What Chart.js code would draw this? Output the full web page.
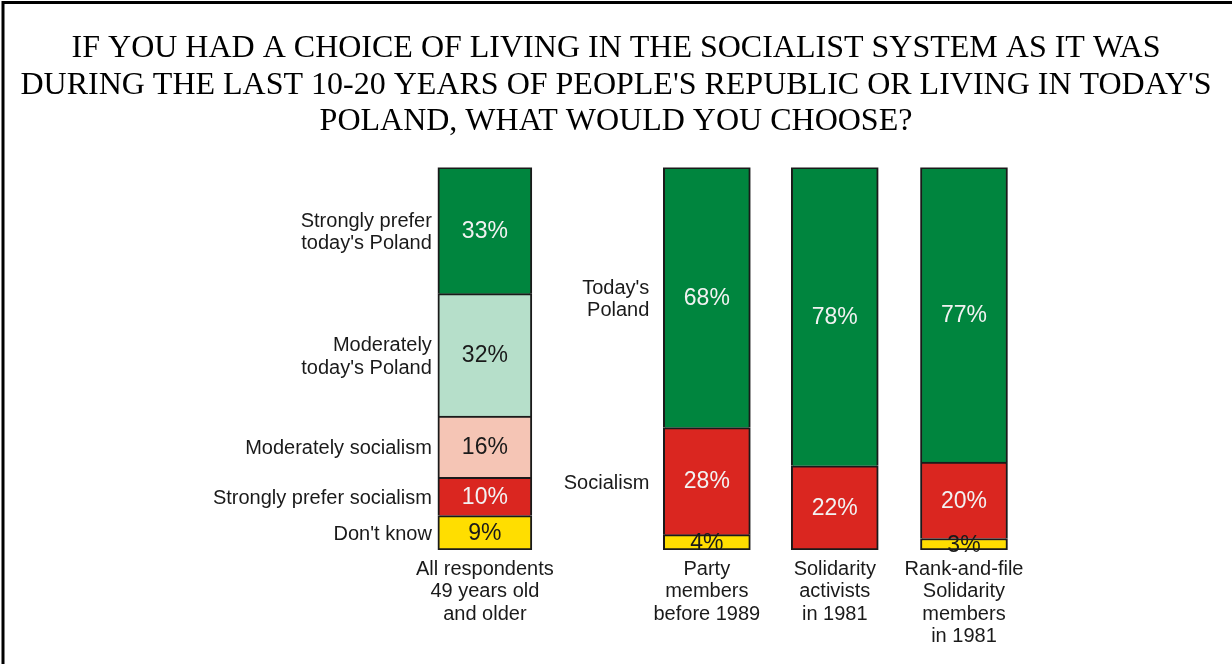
<!DOCTYPE html>
<html>
<head>
<meta charset="utf-8">
<script src="https://cdn.jsdelivr.net/npm/chart.js@4.4.1/dist/chart.umd.min.js"></script>
<style>
  html, body { margin: 0; padding: 0; background: #fff; }
</style>
</head>
<body>
<canvas id="chart" width="1232" height="664"></canvas>
<script>
// bar names under the x axis
const categories = [
    ['All respondents', '49 years old', 'and older'],
    ['Party', 'members', 'before 1989'],
    ['Solidarity', 'activists', 'in 1981'],
    ['Rank-and-file', 'Solidarity', 'members', 'in 1981']
];

// first bar : all respondents, answers from top to bottom
const allAnswers = ["Strongly prefer today's Poland", "Moderately today's Poland", 'Moderately socialism', 'Strongly prefer socialism', "Don't know"];
const allSideLabels = [['Strongly prefer', "today's Poland"], ['Moderately', "today's Poland"], ['Moderately socialism'], ['Strongly prefer socialism'], ["Don't know"]];
const allValues = [33, 32, 16, 10, 9];

// the three other bars
const groupAnswers = ["Today's Poland", 'Socialism', "Don't know"];
const groupSideLabels = [["Today's", 'Poland'], ['Socialism'], []];
const groupToday = [68, 78, 77];
const groupSocialism = [28, 22, 20];
const groupDontKnow = [4, 0, 3];

const titleLines = [
    'IF YOU HAD A CHOICE OF LIVING IN THE SOCIALIST SYSTEM AS IT WAS',
    "DURING THE LAST 10-20 YEARS OF PEOPLE'S REPUBLIC OR LIVING IN TODAY'S",
    'POLAND, WHAT WOULD YOU CHOOSE?'
];

// couleurs (du haut vers le bas)
const allColors = ['#00853e', '#b6dfca', '#f5c5b5', '#da2620', '#ffde00'];
const allTextColors = ['#f2f2f2', '#1a1a1a', '#1a1a1a', '#f2f2f2', '#1a1a1a'];
const groupColors = ['#00853e', '#da2620', '#ffde00'];
const groupTextColors = ['#f2f2f2', '#f2f2f2', '#1a1a1a'];

// x position of each bar on the linear axis (first bar sits apart)
const slotPos = [0, 1.735, 2.735, 3.745];

const sans = "'Liberation Sans', Arial, sans-serif";
const datasets = [];

// stacked from the bottom up, so walk the lists backwards
for (let i = allValues.length - 1; i >= 0; i--) {
    datasets.push({
        label: allAnswers[i],
        data: [{ x: slotPos[0], y: allValues[i] }],
        backgroundColor: allColors[i],
        valueColor: allTextColors[i],
        sideLines: allSideLabels[i],
        sideGap: 6,
        barThickness: 94,
        borderSkipped: i === allValues.length - 1 ? false : 'start'
    });
}

const groupSeries = [groupToday, groupSocialism, groupDontKnow];
for (let i = groupSeries.length - 1; i >= 0; i--) {
    let skipped = 'start';
    if (i === 2) skipped = false;
    if (i === 1) skipped = ctx => groupDontKnow[ctx.dataIndex] > 0 ? 'start' : false;
    datasets.push({
        label: groupAnswers[i],
        data: groupSeries[i].map((v, j) => ({ x: slotPos[j + 1], y: v })),
        backgroundColor: groupColors[i],
        valueColor: groupTextColors[i],
        sideLines: groupSideLabels[i],
        sideGap: 14,
        barThickness: 87,
        borderSkipped: skipped
    });
}

// cadre noir en haut et à gauche
const framePlugin = {
    id: 'frame',
    beforeDraw(chart) {
        const ctx = chart.ctx;
        ctx.save();
        ctx.strokeStyle = '#000';
        ctx.lineWidth = 3;
        ctx.beginPath();
        ctx.moveTo(3, chart.height);
        ctx.lineTo(3, 2.5);
        ctx.lineTo(chart.width, 2.5);
        ctx.stroke();
        ctx.restore();
    }
};

// percentages inside the segments + answer names left of the bars
const labelPlugin = {
    id: 'segmentLabels',
    afterDatasetsDraw(chart) {
        const ctx = chart.ctx;
        ctx.save();
        ctx.textBaseline = 'middle';
        chart.data.datasets.forEach((ds, i) => {
            const meta = chart.getDatasetMeta(i);
            meta.data.forEach((bar, j) => {
                const value = ds.data[j].y;
                const p = bar.getProps(['x', 'y', 'base', 'width'], true);
                const yc = (p.y + p.base) / 2;
                if (value) {
                    ctx.font = '23px ' + sans;
                    ctx.textAlign = 'center';
                    ctx.fillStyle = ds.valueColor;
                    ctx.fillText(value + '%', p.x, yc + 1);
                }
                if (j === 0 && ds.sideLines.length) {
                    ctx.font = '20px ' + sans;
                    ctx.textAlign = 'right';
                    ctx.fillStyle = '#1a1a1a';
                    const lh = 22.5;
                    const top = yc + 2 - (ds.sideLines.length - 1) * lh / 2;
                    ds.sideLines.forEach((line, k) => {
                        ctx.fillText(line, p.x - p.width / 2 - ds.sideGap, top + k * lh);
                    });
                }
            });
        });
        ctx.restore();
    }
};

new Chart(document.getElementById('chart'), {
    type: 'bar',
    data: { datasets: datasets },
    options: {
        responsive: false,
        animation: false,
        datasets: {
            bar: { borderColor: '#1a1a1a', borderWidth: 2 }
        },
        layout: { padding: { left: 0, right: 0, top: 0, bottom: 8 } },
        plugins: {
            legend: { display: false },
            tooltip: { enabled: false },
            title: {
                display: true,
                text: titleLines,
                color: '#000',
                font: { family: "'Liberation Serif', 'Times New Roman', serif", size: 32, weight: 'normal', lineHeight: 1.15 },
                padding: { top: 30, bottom: 27 }
            }
        },
        scales: {
            x: {
                type: 'linear',
                stacked: true,
                offset: false,
                min: -3.79,
                max: 5.84,
                grid: { display: false, drawTicks: false },
                border: { display: false },
                afterBuildTicks: scale => {
                    scale.ticks = slotPos.map(v => ({ value: v }));
                },
                ticks: {
                    autoSkip: false,
                    maxRotation: 0,
                    padding: 8,
                    color: '#1a1a1a',
                    font: { family: sans, size: 20, lineHeight: 1.125 },
                    callback: (value, index) => categories[index]
                }
            },
            y: {
                stacked: true,
                min: 0,
                max: 100,
                display: false
            }
        }
    },
    plugins: [framePlugin, labelPlugin]
});
</script>
</body>
</html>
